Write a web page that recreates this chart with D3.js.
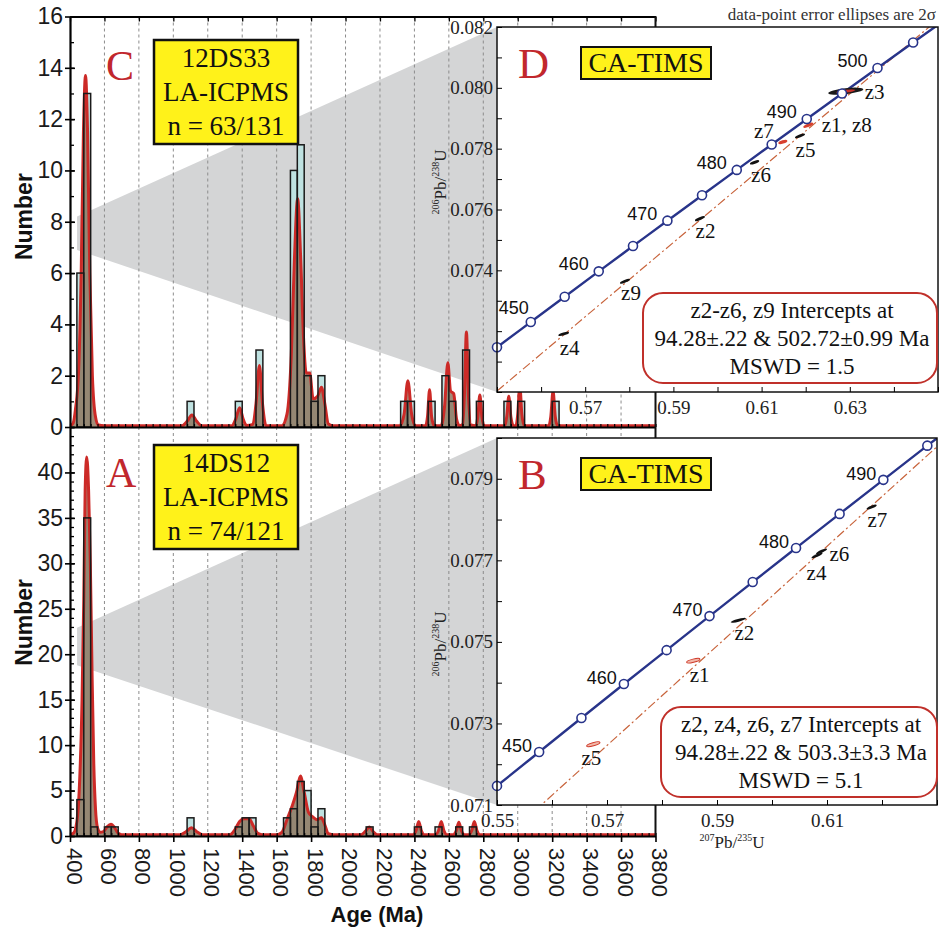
<!DOCTYPE html>
<html>
<head>
<meta charset="utf-8">
<script src="https://cdn.jsdelivr.net/npm/d3@7"></script>
<style>
  body { margin: 0; background: #fff; }
  svg { display: block; }
</style>
</head>
<body>
<script>
// ---------- data ----------
const ageTicks = [400, 600, 800, 1000, 1200, 1400, 1600, 1800, 2000, 2200, 2400, 2600, 2800, 3000, 3200, 3400, 3600, 3800];
const binWidth = 40;

// 12DS33, LA-ICPMS (panel C)
const binsC   = [440, 480, 1080, 1360, 1480, 1680, 1720, 1760, 1800, 1840, 2320, 2360, 2480, 2560, 2600, 2680, 2760, 2920, 3000, 3200];
const countsC = [6, 13, 1, 1, 3, 10, 11, 2, 1, 2, 1, 1, 1, 2, 1, 3, 1, 1, 1, 1];
const countTicksC = [0, 2, 4, 6, 8, 10, 12, 14, 16];
const pdpC = [
  [400,0.05],[418,0.15],[432,0.7],[450,2.2],[465,6],[478,11.5],[490,13.7],[502,11.5],[515,6],[530,2.0],[548,0.4],[565,0.08],[600,0.05],
  [1050,0.05],[1080,0.22],[1108,0.47],[1136,0.22],[1165,0.05],
  [1340,0.05],[1362,0.3],[1385,0.75],[1406,0.3],[1425,0.06],[1462,0.1],[1480,0.9],[1500,2.4],[1518,0.9],[1538,0.06],
  [1630,0.05],[1660,0.5],[1685,2.8],[1703,6.5],[1722,8.9],[1740,6.5],[1756,3.5],[1772,2.1],[1792,2.1],[1812,1.1],[1838,1.2],[1860,1.55],[1880,0.9],[1900,0.12],[1925,0.05],
  [2315,0.05],[2340,0.5],[2362,1.8],[2384,0.5],[2405,0.05],
  [2465,0.05],[2476,0.4],[2488,1.45],[2500,0.4],[2515,0.05],
  [2555,0.05],[2575,0.8],[2594,2.5],[2610,1.4],[2628,1.3],[2645,0.3],[2662,0.05],
  [2680,0.1],[2690,1.2],[2702,3.7],[2714,1.2],[2728,0.08],
  [2758,0.05],[2768,0.4],[2780,1.25],[2792,0.4],[2805,0.05],
  [2925,0.05],[2936,0.4],[2948,1.2],[2960,0.4],[2975,0.05],
  [2990,0.05],[3000,0.5],[3012,1.6],[3024,0.5],[3038,0.05],
  [3180,0.05],[3192,0.4],[3205,1.4],[3218,0.4],[3232,0.05],
  [3800,0.05]
];

// 14DS12, LA-ICPMS (panel A)
const binsA   = [440, 480, 520, 600, 640, 1080, 1360, 1400, 1440, 1640, 1680, 1720, 1760, 1800, 1840, 2120, 2400, 2520, 2640, 2720];
const countsA = [4, 35, 1, 1, 1, 2, 1, 2, 2, 2, 3, 6, 5, 1, 3, 1, 1, 1, 1, 1];
const countTicksA = [0, 5, 10, 15, 20, 25, 30, 35, 40];
const pdpA = [
  [400,0.15],[420,0.3],[440,1.6],[455,5.6],[470,15],[480,26],[488,38],[497,41.7],[508,38],[518,30],[528,18],[538,8],[548,3],[560,0.9],[575,0.4],
  [595,0.5],[615,1.0],[638,1.3],[660,0.9],[680,0.3],[700,0.15],
  [1040,0.15],[1072,0.45],[1105,0.9],[1138,0.45],[1170,0.15],
  [1330,0.15],[1358,0.7],[1385,1.6],[1410,1.9],[1440,1.9],[1465,1.1],[1490,0.3],[1515,0.15],
  [1600,0.15],[1630,0.4],[1660,1.8],[1690,3.3],[1715,4.8],[1738,6.6],[1760,4.8],[1785,2.6],[1810,2.1],[1835,1.8],[1860,2.0],[1880,1.2],[1900,0.25],[1925,0.15],
  [2090,0.15],[2115,0.5],[2138,1.0],[2160,0.5],[2185,0.15],
  [2395,0.15],[2410,0.6],[2425,1.6],[2440,0.6],[2455,0.15],
  [2525,0.15],[2540,0.6],[2556,1.6],[2571,0.6],[2586,0.15],
  [2628,0.15],[2643,0.6],[2658,1.5],[2673,0.6],[2688,0.15],
  [2718,0.15],[2733,0.6],[2748,1.6],[2763,0.6],[2778,0.15],
  [3800,0.15]
];

// concordia (Ma) with 207Pb/235U and 206Pb/238U ratios
const concAges = [440, 445, 450, 455, 460, 465, 470, 475, 480, 485, 490, 495, 500, 505, 510];
const conc207  = [0.54239, 0.55000, 0.55766, 0.56535, 0.57307, 0.58084, 0.58864, 0.59649, 0.60437, 0.61229, 0.62024, 0.62824, 0.63628, 0.64436, 0.65248];
const conc206  = [0.070638, 0.071469, 0.072300, 0.073133, 0.073966, 0.074798, 0.075633, 0.076467, 0.077302, 0.078139, 0.078974, 0.079812, 0.080650, 0.081488, 0.082328];
const concLabelAges = [450, 460, 470, 480, 490, 500];

// discordia lines: lower and upper intercepts [207/235, 206/238]
const discordiaD = [[0.097299, 0.014733], [0.64067, 0.081106]];
const discordiaB = [[0.097299, 0.014733], [0.64161, 0.081204]];

// zircon analyses: name, 207/235, 206/238, half-axis 207/235, half-axis 206/238, kind
const zirconsD = [
  ['z4',     0.56512, 0.07191,  0.00121, 0.000049, 'black'],
  ['z9',     0.57902, 0.07364,  0.00113, 0.000066, 'black'],
  ['z2',     0.59603, 0.07570,  0.00113, 0.000066, 'black'],
  ['z6',     0.60841, 0.07755,  0.00105, 0.000054, 'black'],
  ['z5',     0.61871, 0.07842,  0.00113, 0.000061, 'black'],
  ['z7',     0.61481, 0.07822,  0.00102, 0.000043, 'red'],
  ['z1, z8', 0.62059, 0.07877,  0.00113, 0.000066, 'red'],
  ['z3',     0.62909, 0.07989,  0.00397, 0.000066, 'both']
];
const zirconsB = [
  ['z5', 0.56751, 0.072491, 0.00121, 0.000045, 'redline'],
  ['z1', 0.58569, 0.074539, 0.00121, 0.000041, 'redline'],
  ['z2', 0.59388, 0.075530, 0.00139, 0.000049, 'black'],
  ['z4', 0.60818, 0.077118, 0.00100, 0.000060, 'black'],
  ['z6', 0.60900, 0.077220, 0.00100, 0.000060, 'black'],
  ['z7', 0.61812, 0.078308, 0.00091, 0.000049, 'black']
];

// axis tick labels of the concordia panels
const ticks206D = [0.074, 0.076, 0.078, 0.080, 0.082];
const ticks207D = [0.57, 0.59, 0.61, 0.63];
const ticks206B = [0.071, 0.073, 0.075, 0.077, 0.079];
const ticks207B = [0.55, 0.57, 0.59, 0.61];

// ---------- layout ----------
const SANS = '"Liberation Sans", Arial, sans-serif';
const SERIF = '"Liberation Serif", "Times New Roman", serif';
const RED = '#c1272d';

const svg = d3.select('body').append('svg').attr('width', 940).attr('height', 930);
const defs = svg.append('defs');

const hx = d3.scaleLinear().domain([400, 3800]).range([70, 655.5]);
const yC = d3.scaleLinear().domain([0, 16]).range([427, 16.5]);
const yA = d3.scaleLinear().domain([0, 45]).range([836, 427]);

const xD = d3.scaleLinear().domain([0.55, 0.65]).range([497, 938]);
const yD = d3.scaleLinear().domain([0.070, 0.082]).range([392, 27]);
const xB = d3.scaleLinear().domain([0.55, 0.63]).range([497, 937]);
const yB = d3.scaleLinear().domain([0.071, 0.080]).range([805, 438]);

// grey "zoom" wedges: age of apex and the two counts at the apex
const wedgeC = [441, 8.2, 6.9];
const wedgeA = [441, 22.9, 18.8];

// ellipse label offsets (px from ellipse centre) and anchors
const zLabelD = {
  'z4': [6, 21, 'middle'], 'z9': [6, 19, 'middle'], 'z2': [5.5, 19.6, 'middle'], 'z6': [6.4, 19.4, 'middle'],
  'z5': [5.5, 21, 'middle'], 'z7': [-19, -4, 'middle'], 'z1, z8': [13.4, 6.4, 'start'], 'z3': [19, 7.7, 'start']
};
const zLabelB = {
  'z5': [-2, 21, 'middle'], 'z1': [6.4, 21.6, 'middle'], 'z2': [6, 19.7, 'middle'],
  'z4': [-0.5, 24.5, 'middle'], 'z6': [8, 10, 'start'], 'z7': [5.8, 19.7, 'middle']
};

// ---------- histograms ----------
function histogram(id, bins, counts, pdp, y, wedge, px, py) {
  const base = y.range()[0], top = y.range()[1];
  const [left, right] = hx.range();
  const g = svg.append('g');

  defs.append('clipPath').attr('id', id).append('rect')
    .attr('x', left).attr('y', top).attr('width', right - left).attr('height', base - top);

  const wx = hx(wedge[0]);
  g.append('path')
    .attr('d', d3.line()([[wx, y(wedge[1])], [px.range()[0], py.range()[1]], [px.range()[0], py.range()[0]], [wx, y(wedge[2])]]) + 'Z')
    .attr('fill', '#d4d5d6');

  g.selectAll('.grid')
    .data(ageTicks.slice(1, -1))
    .enter()
    .append('line')
    .attr('x1', d => hx(d)).attr('x2', d => hx(d))
    .attr('y1', top).attr('y2', base)
    .attr('stroke', '#8c8c8c')
    .attr('stroke-width', 1)
    .attr('stroke-dasharray', '3,3')

  g.selectAll('.barfill')
    .data(bins)
    .enter()
    .append('rect')
    .attr('x', d => hx(d))
    .attr('width', d => hx(d + binWidth) - hx(d))
    .attr('y', (d, i) => y(counts[i]))
    .attr('height', (d, i) => base - y(counts[i]))
    .attr('fill', '#bfe2e1')

  const area = d3.area().x(d => hx(d[0])).y0(base).y1(d => y(d[1])).curve(d3.curveMonotoneX);
  const line = d3.line().x(d => hx(d[0])).y(d => y(d[1])).curve(d3.curveMonotoneX);
  g.append('path').datum(pdp).attr('clip-path', `url(#${id})`)
    .attr('d', area).attr('fill', '#8b7058').attr('fill-opacity', 0.8);
  g.append('path').datum(pdp).attr('clip-path', `url(#${id})`)
    .attr('d', line).attr('fill', 'none').attr('stroke', '#cc2a27').attr('stroke-width', 3);

  g.selectAll('.barline')
    .data(bins)
    .enter()
    .append('rect')
    .attr('x', d => hx(d))
    .attr('width', d => hx(d + binWidth) - hx(d))
    .attr('y', (d, i) => y(counts[i]))
    .attr('height', (d, i) => base - y(counts[i]))
    .attr('fill', 'none')
    .attr('stroke', '#1a1a1a')
    .attr('stroke-width', 1.5)
}

function countAxis(y, majors, maxCount) {
  const left = hx.range()[0];
  const a = svg.append('g').attr('transform', `translate(${left},0)`)
    .call(d3.axisLeft(y).tickValues(majors).tickSize(5).tickPadding(2).tickSizeOuter(0))
    .attr('font-family', SANS).attr('font-size', 23);
  a.select('.domain').attr('stroke-width', 2.2);
  a.selectAll('.tick line').attr('stroke-width', 1.6);
  a.selectAll('text').attr('fill', '#1a1a1a');

  svg.append('g').attr('transform', `translate(${left},0)`)
    .call(d3.axisRight(y).tickValues(d3.range(0, maxCount + 1)).tickSize(4).tickFormat(''))
    .call(g => g.select('.domain').remove())
    .selectAll('line').attr('stroke-width', 1.3);
  svg.append('g').attr('transform', `translate(${left},0)`)
    .call(d3.axisRight(y).tickValues(majors).tickSize(5).tickFormat(''))
    .call(g => g.select('.domain').remove())
    .selectAll('line').attr('stroke-width', 1.6);
}

histogram('clipC', binsC, countsC, pdpC, yC, wedgeC, xD, yD);
histogram('clipA', binsA, countsA, pdpA, yA, wedgeA, xB, yB);

countAxis(yC, countTicksC, 16);
countAxis(yA, countTicksA, 45);

// top frame of C with ticks
svg.append('g').attr('transform', `translate(0,${yC.range()[1]})`)
  .call(d3.axisBottom(hx).tickValues(ageTicks).tickSize(5).tickFormat('').tickSizeOuter(0))
  .call(g => g.select('.domain').attr('stroke-width', 2))
  .selectAll('line').attr('stroke-width', 1.3);

// shared baseline C / top of A
svg.append('g').attr('transform', `translate(0,${yC.range()[0]})`)
  .call(d3.axisTop(hx).tickValues(d3.range(400, 3801, 40)).tickSize(3).tickFormat('').tickSizeOuter(0))
  .call(g => g.select('.domain').attr('stroke-width', 2))
  .selectAll('line').attr('stroke-width', 1.2);

// bottom age axis of A
svg.append('g').attr('transform', `translate(0,${yA.range()[0]})`)
  .call(d3.axisTop(hx).tickValues(d3.range(400, 3801, 40)).tickSize(3).tickFormat(''))
  .call(g => g.select('.domain').remove())
  .selectAll('line').attr('stroke-width', 1.2);
const ageAxis = svg.append('g').attr('transform', `translate(0,${yA.range()[0]})`)
  .call(d3.axisBottom(hx).tickValues(ageTicks).tickSize(6).tickSizeOuter(0).tickFormat(d3.format('d')))
  .attr('font-family', SANS).attr('font-size', 22);
ageAxis.select('.domain').attr('stroke-width', 2.2);
ageAxis.selectAll('.tick line').attr('stroke-width', 1.6);
ageAxis.selectAll('text')
  .attr('fill', '#1a1a1a')
  .attr('transform', 'rotate(90)')
  .attr('text-anchor', 'start')
  .attr('x', 12).attr('y', 0).attr('dy', '0.18em');

// right frame shared by C and A
svg.append('line')
  .attr('x1', hx.range()[1]).attr('x2', hx.range()[1])
  .attr('y1', yC.range()[1]).attr('y2', yA.range()[0])
  .attr('stroke', '#111').attr('stroke-width', 2);

// axis titles
svg.append('text').attr('transform', `translate(32,${yC(8.2)}) rotate(-90)`)
  .attr('text-anchor', 'middle').attr('font-family', SANS).attr('font-weight', 'bold')
  .attr('font-size', 23).attr('fill', '#111').text('Number');
svg.append('text').attr('transform', `translate(32,${yA(23.5)}) rotate(-90)`)
  .attr('text-anchor', 'middle').attr('font-family', SANS).attr('font-weight', 'bold')
  .attr('font-size', 23).attr('fill', '#111').text('Number');
svg.append('text').attr('x', 377).attr('y', 922)
  .attr('text-anchor', 'middle').attr('font-family', SANS).attr('font-weight', 'bold')
  .attr('font-size', 22).attr('fill', '#111').text('Age (Ma)');

// sample boxes
function sampleBox(letter, lines, boxTop, letterBase) {
  svg.append('text').attr('x', 106).attr('y', letterBase)
    .attr('font-family', SERIF).attr('font-size', 42).attr('fill', RED).text(letter);
  svg.append('rect').attr('x', 154).attr('y', boxTop).attr('width', 144).attr('height', 104)
    .attr('fill', '#fff21a').attr('stroke', '#111').attr('stroke-width', 2.5);
  svg.selectAll(null)
    .data(lines)
    .enter()
    .append('text')
    .attr('x', 226)
    .attr('y', (d, i) => boxTop + 27 + i * 34)
    .attr('text-anchor', 'middle')
    .attr('font-family', SERIF)
    .attr('font-size', 27)
    .attr('fill', '#111')
    .text(d => d)
}
sampleBox('C', ['12DS33', 'LA-ICPMS', 'n = 63/131'], 40, 80);
sampleBox('A', ['14DS12', 'LA-ICPMS', 'n = 74/121'], 445, 487);

// ---------- concordia panels ----------
function ratioLabel(sel, sup1, sup2) {
  sel.append('tspan').attr('font-size', 10).attr('dy', -7).text(sup1);
  sel.append('tspan').attr('font-size', 17).attr('dy', 7).text('Pb/');
  sel.append('tspan').attr('font-size', 10).attr('dy', -7).text(sup2);
  sel.append('tspan').attr('font-size', 17).attr('dy', 7).text('U');
}

function concordiaPanel(id, x, y, letter, zircons, zLabels, discordia, t207, t206, minor207, minor206, concOff, boxLines, box, yTitleMid) {
  const [x0, x1] = x.range(), [y0, y1] = y.range();
  const g = svg.append('g');

  defs.append('clipPath').attr('id', id).append('rect')
    .attr('x', x0).attr('y', y1).attr('width', x1 - x0).attr('height', y0 - y1);

  g.append('rect').attr('x', x0).attr('y', y1).attr('width', x1 - x0).attr('height', y0 - y1)
    .attr('fill', '#fff');

  // discordia
  const [[ax, ay], [bx, by]] = discordia;
  const slope = (by - ay) / (bx - ax);
  const dline = x.domain().map(v => [v, ay + (v - ax) * slope]);
  g.append('path').attr('clip-path', `url(#${id})`)
    .attr('d', d3.line().x(d => x(d[0])).y(d => y(d[1]))(dline))
    .attr('fill', 'none').attr('stroke', '#c8643c').attr('stroke-width', 1.2)
    .attr('stroke-dasharray', '9,3,2,3');

  // concordia curve
  const conc = concAges.map((a, i) => ({ age: a, x: conc207[i], y: conc206[i] }));
  g.append('path').attr('clip-path', `url(#${id})`)
    .attr('d', d3.line().x(d => x(d.x)).y(d => y(d.y)).curve(d3.curveMonotoneX)(conc))
    .attr('fill', 'none').attr('stroke', '#28348a').attr('stroke-width', 2.4);

  // error ellipses
  zircons.forEach(z => {
    const [name, cx, cy, ex, ey, kind] = z;
    const p1 = [x(cx - ex), y(cy - ey)], p2 = [x(cx + ex), y(cy + ey)];
    const mx = x(cx), my = y(cy);
    const len = Math.hypot(p2[0] - p1[0], p2[1] - p1[1]) / 2;
    const ang = Math.atan2(p2[1] - p1[1], p2[0] - p1[0]) * 180 / Math.PI;
    const e = g.append('g').attr('transform', `translate(${mx},${my}) rotate(${ang})`);
    if (kind === 'black') {
      e.append('ellipse').attr('rx', len).attr('ry', 1.4).attr('fill', '#111');
    } else if (kind === 'red') {
      e.append('ellipse').attr('rx', len).attr('ry', 1.7).attr('fill', '#d8402e');
    } else if (kind === 'redline') {
      e.append('ellipse').attr('rx', len).attr('ry', 1.6).attr('fill', '#f2b7a8')
        .attr('stroke', '#cf3a2a').attr('stroke-width', 1);
    } else {
      e.append('ellipse').attr('rx', len).attr('ry', 3).attr('fill', '#1a1a1a');
      e.append('ellipse').attr('rx', len * 0.55).attr('ry', 1.4).attr('fill', '#c8302a');
    }
    const off = zLabels[name];
    g.append('text').attr('x', mx + off[0]).attr('y', my + off[1])
      .attr('text-anchor', off[2]).attr('font-family', SERIF).attr('font-size', 21)
      .attr('fill', '#111').text(name);
  });

  // concordia age points and labels
  const inside = conc.filter(d => d.x >= x.domain()[0] - 1e-6 && d.x <= x.domain()[1] && d.y <= y.domain()[1]);
  g.selectAll('.cpt')
    .data(inside)
    .enter()
    .append('circle')
    .attr('cx', d => x(d.x))
    .attr('cy', d => y(d.y))
    .attr('r', 4.5)
    .attr('fill', '#fff')
    .attr('stroke', '#28348a')
    .attr('stroke-width', 1.6)
  g.selectAll('.clab')
    .data(inside.filter(d => concLabelAges.includes(d.age)))
    .enter()
    .append('text')
    .attr('x', d => x(d.x) + (concOff[d.age] || concOff.def)[0])
    .attr('y', d => y(d.y) + (concOff[d.age] || concOff.def)[1])
    .attr('text-anchor', 'end')
    .attr('font-family', SANS)
    .attr('font-size', 18)
    .attr('fill', '#111')
    .text(d => d.age)

  // frame and ticks
  g.append('rect').attr('x', x0).attr('y', y1).attr('width', x1 - x0).attr('height', y0 - y1)
    .attr('fill', 'none').attr('stroke', '#111').attr('stroke-width', 1.5);
  g.append('g').attr('transform', `translate(${x0},0)`)
    .call(d3.axisRight(y).tickValues(minor206).tickSize(5).tickFormat(''))
    .call(s => s.select('.domain').remove());
  g.append('g').attr('transform', `translate(0,${y0})`)
    .call(d3.axisTop(x).tickValues(minor207).tickSize(5).tickFormat(''))
    .call(s => s.select('.domain').remove());

  g.append('g').attr('transform', `translate(${x0},0)`)
    .call(d3.axisLeft(y).tickValues(t206).tickSize(0).tickPadding(4).tickFormat(d3.format('.3f')))
    .attr('font-family', SERIF).attr('font-size', 19)
    .call(s => s.select('.domain').remove())
    .selectAll('text').attr('fill', '#222');
  g.append('g').attr('transform', `translate(0,${y0})`)
    .call(d3.axisBottom(x).tickValues(t207).tickSize(0).tickPadding(9).tickFormat(d3.format('.2f')))
    .attr('font-family', SERIF).attr('font-size', 19)
    .call(s => s.select('.domain').remove())
    .selectAll('text').attr('fill', '#222');

  // y title
  const yt = g.append('text').attr('transform', `translate(446,${yTitleMid}) rotate(-90)`)
    .attr('text-anchor', 'middle').attr('font-family', SERIF).attr('fill', '#222');
  ratioLabel(yt, '206', '238');

  // letter and method box
  g.append('text').attr('x', 518).attr('y', y1 + 51)
    .attr('font-family', SERIF).attr('font-size', 43).attr('fill', RED).text(letter);
  g.append('rect').attr('x', 581).attr('y', y1 + 20).attr('width', 130).attr('height', 32)
    .attr('fill', '#fff21a').attr('stroke', '#111').attr('stroke-width', 2);
  g.append('text').attr('x', 646).attr('y', y1 + 45).attr('text-anchor', 'middle')
    .attr('font-family', SERIF).attr('font-size', 28).attr('fill', '#111').text('CA-TIMS');

  // intercept box
  g.append('rect').attr('x', box[0]).attr('y', box[1]).attr('width', box[2] - box[0]).attr('height', box[3] - box[1])
    .attr('rx', 20).attr('fill', '#fff').attr('stroke', '#c0302a').attr('stroke-width', 2);
  g.selectAll('.ib')
    .data(boxLines)
    .enter()
    .append('text')
    .attr('x', (box[0] + box[2]) / 2 + 2)
    .attr('y', (d, i) => box[1] + 25 + i * 28)
    .attr('text-anchor', 'middle')
    .attr('font-family', SERIF)
    .attr('font-size', 23)
    .attr('fill', '#111')
    .text(d => d)
}

concordiaPanel('clipD', xD, yD, 'D', zirconsD, zLabelD, discordiaD, ticks207D, ticks206D,
  d3.range(55, 66).map(v => v / 100), d3.range(70, 83).map(v => v / 1000),
  { def: [-10, -1], 450: [-2, -8] },
  ['z2-z6, z9 Intercepts at', '94.28\u00b1.22 & 502.72\u00b10.99 Ma', 'MSWD = 1.5'],
  [643, 293, 937, 383], 182);

concordiaPanel('clipB', xB, yB, 'B', zirconsB, zLabelB, discordiaB, ticks207B, ticks206B,
  d3.range(55, 64).map(v => v / 100), d3.range(71, 81).map(v => v / 1000),
  { def: [-7, 0] },
  ['z2, z4, z6, z7 Intercepts at', '94.28\u00b1.22 & 503.3\u00b13.3 Ma', 'MSWD = 5.1'],
  [661, 707, 937, 797], 644);

// x title of B
const xt = svg.append('text').attr('x', 732).attr('y', 848)
  .attr('text-anchor', 'middle').attr('font-family', SERIF).attr('fill', '#222');
ratioLabel(xt, '207', '235');

svg.append('text').attr('x', 936).attr('y', 20).attr('text-anchor', 'end')
  .attr('font-family', SERIF).attr('font-size', 17).attr('fill', '#333')
  .text('data-point error ellipses are 2\u03c3');
</script>
</body>
</html>
